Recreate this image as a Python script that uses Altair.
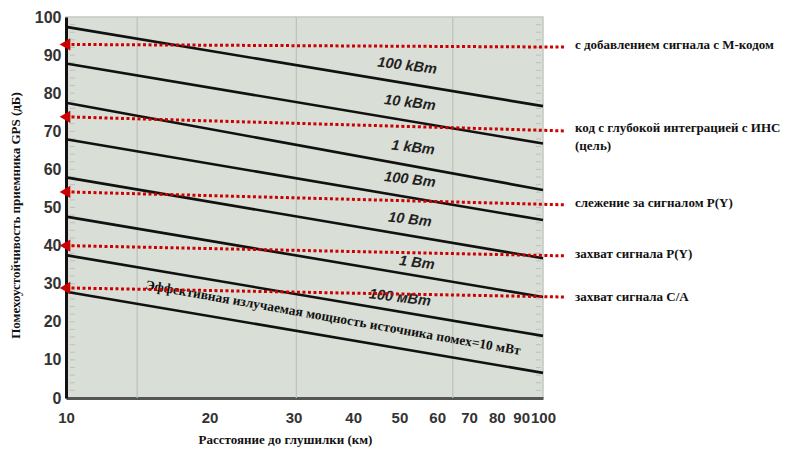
import altair as alt
import pandas as pd

# Jammer power lines: value at 10 km and at 100 km (dB)
powers = ["100 kВт", "10 kВт", "1 kВт", "100 Вт", "10 Вт", "1 Вт", "100 мВт", "10 мВт"]
y_at_10 = [97.4, 87.8, 77.5, 67.9, 57.9, 47.6, 37.5, 27.9]
y_at_100 = [76.6, 66.8, 54.6, 46.7, 36.7, 26.5, 16.3, 6.6]

# labels on the lines
line_labels = ["100 kВт", "10 kВт", "1 kВт", "100 Вт", "10 Вт", "1 Вт", "100 мВт"]
line_label_x = [51.9, 52.6, 53.4, 52.6, 52.6, 54.4, 50.1]
line_label_y = [87.1, 77.4, 65.6, 57.2, 46.7, 35.4, 26.2]
long_label = "Эффективная излучаемая мощность источника помех=10 мВт"
long_label_x = [36.3]
long_label_y = [21.0]

# red threshold arrows
thr_names = ["с добавлением сигнала с М-кодом", "код с глубокой интеграцией с ИНС",
             "слежение за сигналом P(Y)", "захват сигнала P(Y)", "захват сигнала C/A"]
thr_left = [92.8, 73.8, 54.1, 40.0, 28.9]
thr_right = [92.1, 70.1, 50.7, 37.3, 26.5]
thr_x_end = 111

# right-side annotation text
ann_text = ["с добавлением сигнала с М-кодом", "код с глубокой интеграцией с ИНС", "(цель)",
            "слежение за сигналом P(Y)", "захват сигнала P(Y)", "захват сигнала C/A"]
ann_y = [92.7, 70.9, 66.1, 51.2, 37.8, 26.5]
ann_x = 116.7

grid_x = [14.1, 30.4, 64.7]
x_ticks = [10, 20, 30, 40, 50, 60, 70, 80, 90, 100]
y_ticks = [0, 10, 20, 30, 40, 50, 60, 70, 80, 90, 100]
minor_y = list(range(2, 100, 2))

xs = alt.Scale(type="log", domain=[10, 100], nice=False)
ys = alt.Scale(domain=[0, 100], nice=False)

x_axis = alt.Axis(
    values=x_ticks, format="d", title="Расстояние до глушилки (км)", grid=False,
    ticks=False, domainColor="#555555", domainWidth=3, labelFont="Liberation Sans",
    labelFontWeight="bold", labelFontSize=15, labelColor="#333333", labelPadding=12,
    labelFlush=False, labelOverlap=False, titleFont="Liberation Serif",
    titleFontWeight="bold", titleFontSize=13, titleColor="#111111", titleX=219,
    titleY=48, titleAlign="center", titleBaseline="bottom")
y_axis = alt.Axis(
    values=y_ticks, title="Помехоустойчивость приемника GPS (дБ)",
    grid=False, ticks=False, domainColor="#111111", domainWidth=3,
    labelFont="Liberation Sans", labelFontWeight="bold", labelFontSize=16,
    labelColor="#333333", labelPadding=5, labelOverlap=False,
    titleFont="Liberation Serif", titleFontWeight="bold", titleFontSize=13,
    titleColor="#111111", titleX=-51, titleY=198, titleAlign="center",
    titleBaseline="middle")

lines_df = pd.DataFrame(
    [{"p": p, "x": 10, "y": a} for p, a in zip(powers, y_at_10)] +
    [{"p": p, "x": 100, "y": b} for p, b in zip(powers, y_at_100)])
thr_df = pd.DataFrame({"name": thr_names, "x1": [10] * 5, "x2": [thr_x_end] * 5,
                       "y1": thr_left, "y2": thr_right})
lab_df = pd.DataFrame({"t": line_labels, "x": line_label_x, "y": line_label_y})
long_df = pd.DataFrame({"t": [long_label], "x": long_label_x, "y": long_label_y})
ann_df = pd.DataFrame({"t": ann_text, "x": [ann_x] * len(ann_text), "y": ann_y})
grid_df = pd.DataFrame({"x": grid_x})
minor_df = pd.DataFrame({"y": minor_y})


def X(field):
    return alt.X(field, scale=xs, axis=x_axis)


def Y(field):
    return alt.Y(field, scale=ys, axis=y_axis)


grid = alt.Chart(grid_df).mark_rule(color="#bcc2ba", strokeWidth=1.2).encode(x=X("x:Q"))

minor_left = alt.Chart(minor_df).mark_rule(color="#bcc2ba", strokeWidth=1).encode(
    y=Y("y:Q"), x=alt.value(4), x2=alt.value(9))
minor_right = alt.Chart(minor_df).mark_rule(color="#bcc2ba", strokeWidth=1).encode(
    y=Y("y:Q"), x=alt.value(470), x2=alt.value(475))

power_lines = alt.Chart(lines_df).mark_line(color="#111111", strokeWidth=2.6).encode(
    x=X("x:Q"), y=Y("y:Q"), detail="p:N")

arrows = alt.Chart(thr_df).mark_rule(color="#cc0000", strokeWidth=3,
                                     strokeDash=[3, 2.5], clip=False).encode(
    x=X("x1:Q"), x2="x2:Q", y=Y("y1:Q"), y2="y2:Q")
heads = alt.Chart(thr_df).mark_point(shape="triangle-left", filled=True, color="#cc0000",
                                     size=150, opacity=1, xOffset=-1, clip=False).encode(
    x=X("x1:Q"), y=Y("y1:Q"))

labels = alt.Chart(lab_df).mark_text(font="Liberation Sans", fontWeight="bold",
                                     fontStyle="italic", fontSize=14.5, color="#222222",
                                     angle=7).encode(
    x=X("x:Q"), y=Y("y:Q"), text="t:N")
long_lab = alt.Chart(long_df).mark_text(font="Liberation Serif", fontWeight="bold",
                                        fontSize=13.5, color="#111111", angle=10).encode(
    x=X("x:Q"), y=Y("y:Q"), text="t:N")
ann = alt.Chart(ann_df).mark_text(font="Liberation Serif", fontWeight="bold", fontSize=13,
                                  color="#111111", align="left", clip=False).encode(
    x=X("x:Q"), y=Y("y:Q"), text="t:N")

chart = alt.layer(grid, minor_left, minor_right, power_lines, labels, long_lab,
                  arrows, heads, ann).properties(
    width=477, height=381,
    autosize=alt.AutoSizeParams(type="none"),
    padding={"left": 58, "top": 9, "right": 240, "bottom": 49},
    background="white",
).configure_view(fill="#d9ded6", stroke="#c4c9c1", strokeWidth=1.5)

chart.save("out.html", embed_options={"renderer": "svg", "actions": False})
